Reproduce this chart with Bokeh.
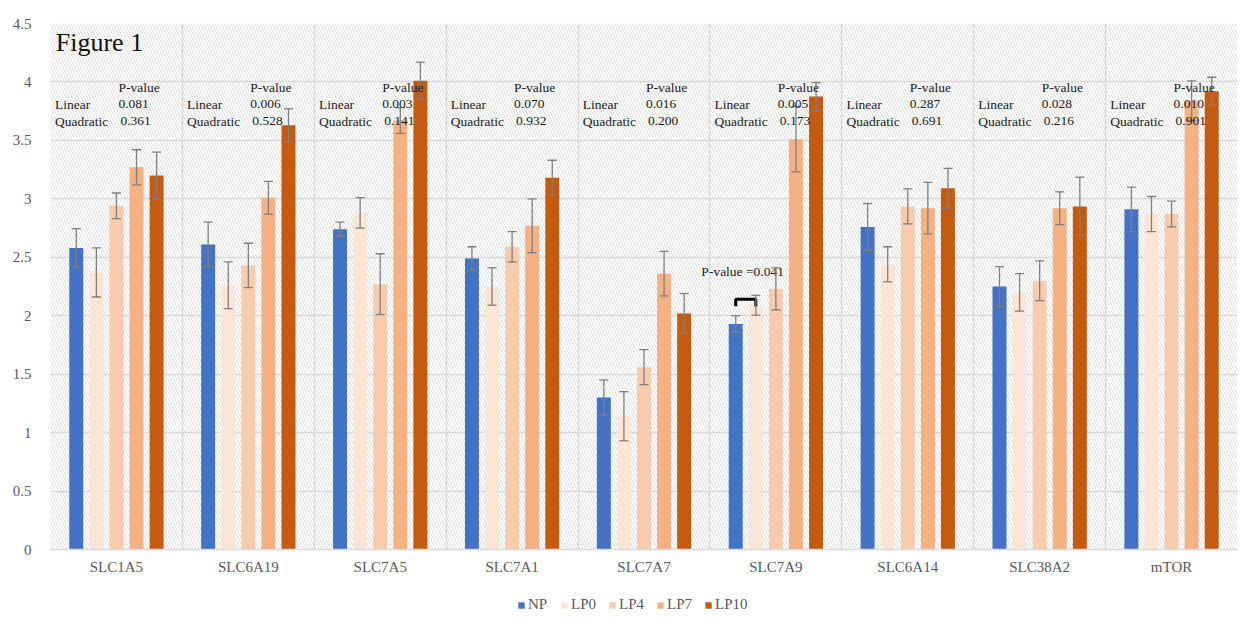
import numpy as np
from bokeh.plotting import figure
from bokeh.layouts import column
from bokeh.models import (ColumnDataSource, Range1d, FixedTicker, Legend, LegendItem,
                          Whisker, TeeHead)
from bokeh.core.properties import value
from bokeh.embed import file_html
from bokeh.resources import INLINE

# ---------------- data ----------------
categories = ["SLC1A5", "SLC6A19", "SLC7A5", "SLC7A1", "SLC7A7", "SLC7A9", "SLC6A14", "SLC38A2", "mTOR"]
series = ["NP", "LP0", "LP4", "LP7", "LP10"]

np_vals = [2.58, 2.61, 2.74, 2.49, 1.30, 1.93, 2.76, 2.25, 2.91]
np_err = [0.165, 0.19, 0.06, 0.10, 0.15, 0.07, 0.20, 0.17, 0.19]
lp0_vals = [2.37, 2.26, 2.88, 2.25, 1.14, 2.09, 2.44, 2.20, 2.87]
lp0_err = [0.21, 0.20, 0.13, 0.16, 0.21, 0.085, 0.15, 0.16, 0.15]
lp4_vals = [2.94, 2.43, 2.27, 2.59, 1.56, 2.23, 2.935, 2.30, 2.87]
lp4_err = [0.11, 0.19, 0.26, 0.13, 0.15, 0.18, 0.15, 0.17, 0.11]
lp7_vals = [3.27, 3.01, 3.67, 2.77, 2.36, 3.51, 2.92, 2.92, 3.84]
lp7_err = [0.15, 0.14, 0.11, 0.23, 0.19, 0.28, 0.22, 0.14, 0.17]
lp10_vals = [3.20, 3.63, 4.01, 3.18, 2.02, 3.875, 3.09, 2.935, 3.92]
lp10_err = [0.20, 0.14, 0.16, 0.15, 0.17, 0.12, 0.17, 0.25, 0.12]

linear_p = ["0.081", "0.006", "0.003", "0.070", "0.016", "0.005", "0.287", "0.028", "0.010"]
quadratic_p = ["0.361", "0.528", "0.141", "0.932", "0.200", "0.173", "0.691", "0.216", "0.901"]

pair_label = "P-value =0.041"
pair_category = "SLC7A9"

y_ticks = [0, 0.5, 1, 1.5, 2, 2.5, 3, 3.5, 4, 4.5]
y_tick_labels = ["0", "0.5", "1", "1.5", "2", "2.5", "3", "3.5", "4", "4.5"]

# ---------------- styling ----------------
colors = ["#4472C4", "#FBE5D6", "#F8CBAD", "#F4B183", "#C55A11"]
SERIF = "Liberation Serif"
offsets = [-0.3045, -0.1522, 0.0, 0.1522, 0.3045]
bar_w = 0.106

vals = [np_vals, lp0_vals, lp4_vals, lp7_vals, lp10_vals]
errs = [np_err, lp0_err, lp4_err, lp7_err, lp10_err]

n = len(categories)
centers = np.arange(n) + 0.5

p = figure(width=1250, height=588, output_backend="svg", toolbar_location=None,
           x_range=Range1d(0, n), y_range=Range1d(0, 4.5),
           min_border_left=50, min_border_right=13, min_border_top=23, min_border_bottom=39)
p.outline_line_color = None
p.background_fill_color = "white"
p.border_fill_color = "white"

# hatched plot area background
p.quad(left=[0], right=[n], bottom=[0], top=[4.5], fill_color="white", line_color=None,
       hatch_pattern="\\", hatch_color="#dedede", hatch_scale=6, hatch_weight=1, level="image")

# grid
p.xgrid.ticker = FixedTicker(ticks=list(range(n + 1)))
p.xgrid.grid_line_color = "#d9d9d9"
p.xgrid.grid_line_width = 1.5
p.ygrid.ticker = FixedTicker(ticks=y_ticks)
p.ygrid.grid_line_color = "#d9d9d9"
p.ygrid.grid_line_width = 1.5

# axes
p.xaxis.ticker = FixedTicker(ticks=list(centers))
p.xaxis.major_label_overrides = {float(c): cat for c, cat in zip(centers, categories)}
p.xaxis.major_tick_line_color = None
p.xaxis.minor_tick_line_color = None
p.xaxis.axis_line_color = "#d9d9d9"
p.xaxis.axis_line_width = 1.5
p.xaxis.major_label_text_font = SERIF
p.xaxis.major_label_text_font_size = "15px"
p.xaxis.major_label_text_color = "#595959"
p.xaxis.major_label_standoff = 3

p.yaxis.ticker = FixedTicker(ticks=y_ticks)
p.yaxis.major_label_overrides = {float(t): s for t, s in zip(y_ticks, y_tick_labels)}
p.yaxis.major_tick_line_color = None
p.yaxis.minor_tick_line_color = None
p.yaxis.axis_line_color = None
p.yaxis.major_label_text_font = SERIF
p.yaxis.major_label_text_font_size = "15px"
p.yaxis.major_label_text_color = "#595959"
p.yaxis.major_label_standoff = 13

for j, name in enumerate(series):
    xs = centers + offsets[j]
    v = np.array(vals[j])
    e = np.array(errs[j])
    src = ColumnDataSource(dict(x=xs, top=v, upper=v + e, lower=v - e))
    p.vbar(x="x", top="top", width=bar_w, bottom=0, source=src,
           fill_color=colors[j], line_color=None)
    wh = Whisker(base="x", upper="upper", lower="lower", source=src, level="annotation",
                 line_color="#7f7f7f", line_width=1.3,
                 upper_head=TeeHead(size=9, line_color="#7f7f7f", line_width=1.3),
                 lower_head=TeeHead(size=9, line_color="#7f7f7f", line_width=1.3))
    p.add_layout(wh)

# p-value annotations
left_x = np.arange(n) + 0.035
val_x = np.arange(n) + 0.515
ann = ColumnDataSource(dict(
    lx=left_x, vx=val_x,
    ph=["P-value"] * n, lin=["Linear"] * n, quad=["Quadratic"] * n,
    lp=linear_p, qp=quadratic_p,
    y0=[3.955] * n, y1=[3.81] * n, y2=[3.665] * n))
common = dict(text_font=value(SERIF), text_font_size="13.5px", text_color="#1a1a1a",
              text_baseline="middle", source=ann, level="overlay")
p.text(x="vx", y="y0", text="ph", **common)
p.text(x="lx", y="y1", text="lin", **common)
p.text(x="lx", y="y2", text="quad", **common)
p.text(x="vx", y="y1", text="lp", **common)
p.text(x="vx", y="y2", text="qp", x_offset=2, **common)

p.text(x=[0.04], y=[4.34], text=["Figure 1"], text_font=value(SERIF), text_font_size="26px",
       text_color="#111111", text_baseline="middle")

# pairwise comparison bracket
k = categories.index(pair_category)
bx0 = centers[k] + offsets[0]
bx1 = centers[k] + offsets[1]
ytop = max(np_vals[k] + np_err[k], lp0_vals[k]) + 0.05
p.line(x=[bx0, bx0, bx1, bx1], y=[ytop - 0.06, ytop, ytop, ytop - 0.06], line_color="black", line_width=3)
p.text(x=[k - 0.065], y=[ytop + 0.24], text=[pair_label], text_font=value(SERIF),
       text_font_size="13.5px", text_color="#1a1a1a", text_baseline="middle")

# ---------------- legend strip ----------------
lg = figure(width=1250, height=34, output_backend="svg", toolbar_location=None,
            x_range=Range1d(0, 1), y_range=Range1d(0, 1),
            min_border_left=0, min_border_right=0, min_border_top=0, min_border_bottom=0)
lg.axis.visible = False
lg.grid.visible = False
lg.outline_line_color = None
lg.border_fill_color = "white"
lg.background_fill_color = "white"
items = []
for j, name in enumerate(series):
    # proxy renderer (kept outside the visible range) so the legend can draw its swatch
    r = lg.vbar(x=[-5.0], top=[-5.0], bottom=-6.0, width=0.1, fill_color=colors[j], line_color=None)
    items.append(LegendItem(label=name, renderers=[r]))
legend = Legend(items=items, orientation="horizontal", location=(467, 9),
                label_text_font=SERIF, label_text_font_size="15px", label_text_color="#595959",
                glyph_width=8, glyph_height=8, label_standoff=3, spacing=12,
                border_line_color=None, background_fill_alpha=0, padding=2, margin=0)
lg.add_layout(legend, "center")

layout = column(p, lg, spacing=0)
open("out.html", "w").write(file_html(layout, INLINE))
